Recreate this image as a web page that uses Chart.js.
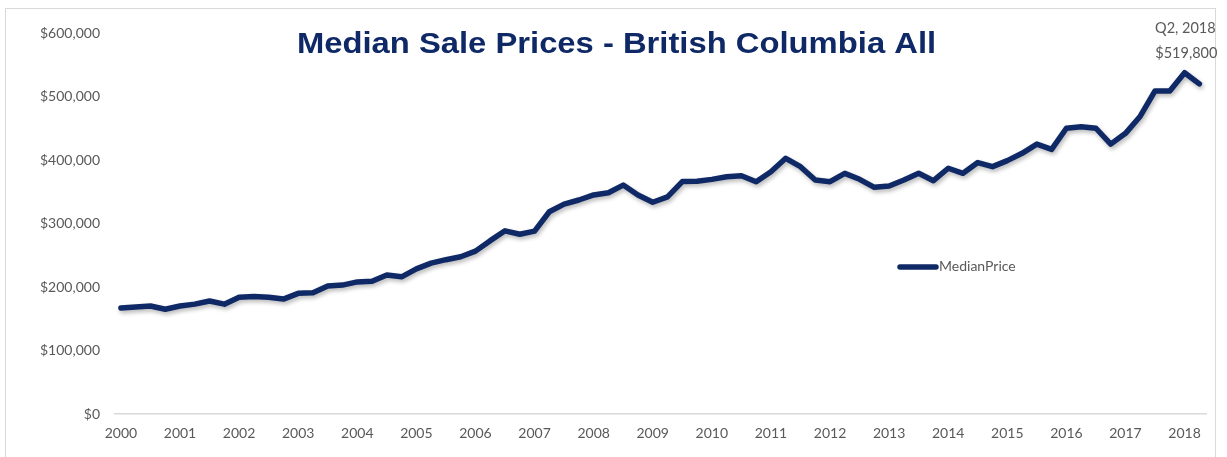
<!DOCTYPE html>
<html>
<head>
<meta charset="utf-8">
<script src="https://cdn.jsdelivr.net/npm/chart.js@4.4.1/dist/chart.umd.min.js"></script>
<style>
  html, body { margin: 0; padding: 0; background: #ffffff; }
  #wrap { position: relative; width: 1227px; height: 457px; overflow: hidden; }
  #frame { position: absolute; left: 5px; top: 8px; width: 1211px; height: 470px;
           border: 1px solid #d9d9d9; box-sizing: border-box; }
  canvas { position: absolute; left: 0; top: 0; }
</style>
</head>
<body>
<div id="wrap">
  <div id="frame"></div>
  <canvas id="chart" width="1227" height="457"></canvas>
</div>
<script>
// Quarterly median sale price, 2000 Q1 .. 2018 Q2
const years = [2000, 2001, 2002, 2003, 2004, 2005, 2006, 2007, 2008, 2009,
               2010, 2011, 2012, 2013, 2014, 2015, 2016, 2017, 2018];
const quarterLabels = [];
years.forEach(y => ['Q1', 'Q2', 'Q3', 'Q4'].forEach(q => quarterLabels.push(q + ', ' + y)));
const medianPrice = [
  167000, 168500, 170000, 165000,   // 2000
  170000, 173000, 178000, 173000,   // 2001
  184000, 185000, 184000, 181000,   // 2002
  190000, 191000, 201500, 203000,   // 2003
  208000, 209000, 219000, 216000,   // 2004
  228500, 237500, 243000, 247700,   // 2005
  256500, 273000, 288500, 283000,   // 2006
  288000, 318500, 330500, 337000,   // 2007
  345000, 348500, 360500, 345000,   // 2008
  333500, 342000, 366000, 366500,   // 2009
  369500, 373700, 375300, 365800,   // 2010
  381500, 402700, 389500, 368500,   // 2011
  365800, 379000, 369600, 357000,   // 2012
  359000, 368500, 379000, 367400,   // 2013
  387000, 379000, 396000, 389500,   // 2014
  399000, 410500, 425000, 416800,   // 2015
  450000, 452500, 450000, 425000,   // 2016
  442000, 469000, 508700, 508700,   // 2017
  537500, 519800                    // 2018
];
const seriesName = 'MedianPrice';
const yTicks = [0, 100000, 200000, 300000, 400000, 500000, 600000];

const NAVY = '#0f2966';
const GREY_TEXT = '#595959';
const FONT = 'Lato, "Open Sans", sans-serif';

const money = v => '$' + Math.round(v).toLocaleString('en-US');

// Title drawn across the top of the plot, slightly widened
const titlePlugin = {
  id: 'topTitle',
  afterDraw(chart) {
    const ctx = chart.ctx;
    const cx = chart.width / 2 + 3;
    ctx.save();
    ctx.translate(cx, 45);
    ctx.scale(1.13, 1);
    ctx.font = 'bold 29px "Liberation Sans", Arial, sans-serif';
    ctx.fillStyle = NAVY;
    ctx.textAlign = 'center';
    ctx.textBaseline = 'middle';
    ctx.fillText('Median Sale Prices - British Columbia All', 0, 0);
    ctx.restore();
  }
};

// Legend entry floating inside the plot area
const floatLegend = {
  id: 'floatLegend',
  afterDraw(chart) {
    const a = chart.chartArea;
    const ctx = chart.ctx;
    const x = a.left + 0.7177 * (a.right - a.left);
    const y = a.top + 0.614 * (a.bottom - a.top);
    ctx.save();
    ctx.strokeStyle = NAVY;
    ctx.lineWidth = 5.5;
    ctx.lineCap = 'round';
    ctx.beginPath();
    ctx.moveTo(x + 2, y);
    ctx.lineTo(x + 38, y);
    ctx.stroke();
    ctx.font = '14px ' + FONT;
    ctx.fillStyle = GREY_TEXT;
    ctx.textAlign = 'left';
    ctx.textBaseline = 'middle';
    ctx.fillText(chart.data.datasets[0].label, x + 41, y);
    ctx.restore();
  }
};

// Label above the latest quarter
const lastPointLabel = {
  id: 'lastPointLabel',
  afterDraw(chart) {
    const meta = chart.getDatasetMeta(0);
    const n = meta.data.length - 1;
    const pt = meta.data[n];
    const ctx = chart.ctx;
    ctx.save();
    ctx.font = '14.5px ' + FONT;
    ctx.fillStyle = GREY_TEXT;
    ctx.textAlign = 'center';
    ctx.textBaseline = 'middle';
    ctx.fillText(quarterLabels[n], pt.x - 14, pt.y - 56);
    ctx.fillText(money(medianPrice[n]), pt.x - 13, pt.y - 31);
    ctx.restore();
  }
};

// Soft drop shadow under the line
const lineShadow = {
  id: 'lineShadow',
  beforeDatasetsDraw(chart) {
    const ctx = chart.ctx;
    ctx.save();
    ctx.shadowColor = 'rgba(0,0,0,0.28)';
    ctx.shadowBlur = 4;
    ctx.shadowOffsetX = 1.5;
    ctx.shadowOffsetY = 2.5;
  },
  afterDatasetsDraw(chart) {
    chart.ctx.restore();
  }
};

new Chart(document.getElementById('chart'), {
  type: 'line',
  data: {
    datasets: [{
      label: seriesName,
      data: medianPrice.map((v, i) => ({ x: i, y: v })),
      borderColor: NAVY,
      backgroundColor: NAVY,
      borderWidth: 5.5,
      borderJoinStyle: 'round',
      borderCapStyle: 'round',
      pointRadius: 0,
      tension: 0,
      fill: false
    }]
  },
  options: {
    responsive: false,
    animation: false,
    devicePixelRatio: 1,
    layout: { padding: { top: 33, right: 21, bottom: 0, left: 0 } },
    plugins: {
      legend: { display: false },
      title: { display: false },
      tooltip: { enabled: false }
    },
    scales: {
      x: {
        type: 'linear',
        min: -0.4,
        max: 73.45,
        grid: { display: false, drawTicks: false },
        border: { display: true, color: '#d9d9d9', width: 1.5 },
        afterBuildTicks(scale) {
          scale.ticks = years.map((y, i) => ({ value: i * 4 }));
        },
        afterFit(scale) { scale.height = 43; },
        ticks: {
          autoSkip: false,
          maxRotation: 0,
          padding: 11,
          color: GREY_TEXT,
          font: { family: FONT, size: 14 },
          callback: v => String(years[Math.round(v / 4)])
        }
      },
      y: {
        type: 'linear',
        min: 0,
        max: 600000,
        grid: { display: false, drawTicks: false },
        border: { display: false },
        afterBuildTicks(scale) {
          scale.ticks = yTicks.map(v => ({ value: v }));
        },
        afterFit(scale) { scale.width = 115; },
        ticks: {
          padding: 15,
          color: GREY_TEXT,
          font: { family: FONT, size: 14 },
          callback: v => money(v)
        }
      }
    }
  },
  plugins: [lineShadow, titlePlugin, floatLegend, lastPointLabel]
});
</script>
</body>
</html>
